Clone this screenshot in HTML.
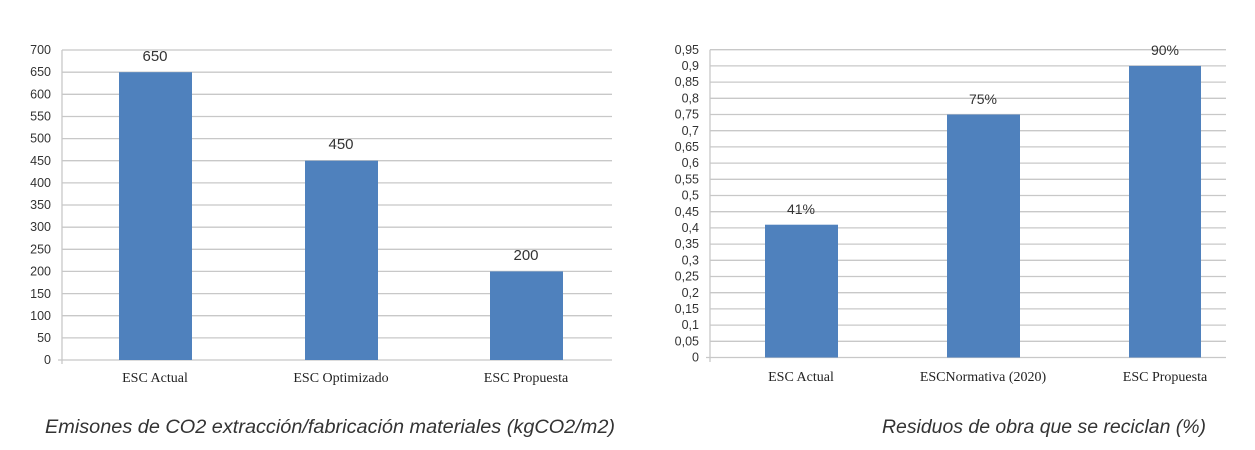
<!DOCTYPE html>
<html><head><meta charset="utf-8"><style>
html,body{margin:0;padding:0;background:#fff;width:1255px;height:450px;overflow:hidden}
</style></head><body>
<svg width="1255" height="450" xmlns="http://www.w3.org/2000/svg">
<g stroke="#c8c8c8" stroke-width="1.3">
<line x1="62" x2="612" y1="337.9" y2="337.9"/><line x1="62" x2="612" y1="315.7" y2="315.7"/><line x1="62" x2="612" y1="293.6" y2="293.6"/><line x1="62" x2="612" y1="271.4" y2="271.4"/><line x1="62" x2="612" y1="249.3" y2="249.3"/><line x1="62" x2="612" y1="227.2" y2="227.2"/><line x1="62" x2="612" y1="205" y2="205"/><line x1="62" x2="612" y1="182.9" y2="182.9"/><line x1="62" x2="612" y1="160.7" y2="160.7"/><line x1="62" x2="612" y1="138.6" y2="138.6"/><line x1="62" x2="612" y1="116.5" y2="116.5"/><line x1="62" x2="612" y1="94.3" y2="94.3"/><line x1="62" x2="612" y1="72.2" y2="72.2"/><line x1="62" x2="612" y1="50" y2="50"/>
<line x1="62" x2="62" y1="50" y2="364"/><line x1="58" x2="612" y1="360" y2="360"/>
</g>
<g fill="#4f81bd">
<rect x="119" y="72.2" width="73" height="287.8"/>
<rect x="305" y="160.7" width="73" height="199.3"/>
<rect x="490" y="271.4" width="73" height="88.6"/>
</g>
<g font-family="Liberation Sans, sans-serif" font-size="12.5" fill="#333" text-anchor="end">
<text x="51" y="364">0</text><text x="51" y="342">50</text><text x="51" y="320">100</text><text x="51" y="298">150</text><text x="51" y="275.5">200</text><text x="51" y="253.5">250</text><text x="51" y="231">300</text><text x="51" y="209">350</text><text x="51" y="187">400</text><text x="51" y="165">450</text><text x="51" y="142.5">500</text><text x="51" y="120.5">550</text><text x="51" y="98.5">600</text><text x="51" y="76">650</text><text x="51" y="54">700</text>
</g>
<g font-family="Liberation Sans, sans-serif" font-size="15" fill="#333" text-anchor="middle">
<text x="155" y="61">650</text><text x="341" y="149">450</text><text x="526" y="260">200</text>
</g>
<g font-family="Liberation Serif, serif" font-size="14" fill="#222" text-anchor="middle">
<text x="155" y="382">ESC Actual</text><text x="341" y="382">ESC Optimizado</text><text x="526" y="382">ESC Propuesta</text>
</g>

<g stroke="#c8c8c8" stroke-width="1.3">
<line x1="710" x2="1226" y1="341.3" y2="341.3"/><line x1="710" x2="1226" y1="325.1" y2="325.1"/><line x1="710" x2="1226" y1="308.9" y2="308.9"/><line x1="710" x2="1226" y1="292.7" y2="292.7"/><line x1="710" x2="1226" y1="276.5" y2="276.5"/><line x1="710" x2="1226" y1="260.3" y2="260.3"/><line x1="710" x2="1226" y1="244.1" y2="244.1"/><line x1="710" x2="1226" y1="227.9" y2="227.9"/><line x1="710" x2="1226" y1="211.7" y2="211.7"/><line x1="710" x2="1226" y1="195.5" y2="195.5"/><line x1="710" x2="1226" y1="179.3" y2="179.3"/><line x1="710" x2="1226" y1="163.1" y2="163.1"/><line x1="710" x2="1226" y1="146.9" y2="146.9"/><line x1="710" x2="1226" y1="130.7" y2="130.7"/><line x1="710" x2="1226" y1="114.5" y2="114.5"/><line x1="710" x2="1226" y1="98.3" y2="98.3"/><line x1="710" x2="1226" y1="82.1" y2="82.1"/><line x1="710" x2="1226" y1="65.9" y2="65.9"/><line x1="710" x2="1226" y1="49.7" y2="49.7"/>
<line x1="710" x2="710" y1="49.7" y2="362"/><line x1="706" x2="1226" y1="357.5" y2="357.5"/>
</g>
<g fill="#4f81bd">
<rect x="765" y="224.7" width="73" height="132.8"/>
<rect x="947" y="114.5" width="73" height="243"/>
<rect x="1129" y="65.9" width="72" height="291.6"/>
</g>
<g font-family="Liberation Sans, sans-serif" font-size="12.5" fill="#333" text-anchor="end">
<text x="699" y="361.5">0</text><text x="699" y="345.5">0,05</text><text x="699" y="329">0,1</text><text x="699" y="313">0,15</text><text x="699" y="297">0,2</text><text x="699" y="280.5">0,25</text><text x="699" y="264.5">0,3</text><text x="699" y="248">0,35</text><text x="699" y="232">0,4</text><text x="699" y="216">0,45</text><text x="699" y="199.5">0,5</text><text x="699" y="183.5">0,55</text><text x="699" y="167">0,6</text><text x="699" y="151">0,65</text><text x="699" y="135">0,7</text><text x="699" y="118.5">0,75</text><text x="699" y="102.5">0,8</text><text x="699" y="86">0,85</text><text x="699" y="70">0,9</text><text x="699" y="54">0,95</text>
</g>
<g font-family="Liberation Sans, sans-serif" font-size="14" fill="#333" text-anchor="middle">
<text x="801" y="214">41%</text><text x="983" y="104">75%</text><text x="1165" y="55">90%</text>
</g>
<g font-family="Liberation Serif, serif" font-size="14" fill="#222" text-anchor="middle">
<text x="801" y="381">ESC Actual</text><text x="983" y="381">ESCNormativa (2020)</text><text x="1165" y="381">ESC Propuesta</text>
</g>

<g font-family="Liberation Sans, sans-serif" font-size="19" font-style="italic" fill="#333">
<text x="45" y="433" textLength="570" lengthAdjust="spacingAndGlyphs">Emisones de CO2 extracción/fabricación materiales (kgCO2/m2)</text>
<text x="882" y="433" textLength="324" lengthAdjust="spacingAndGlyphs">Residuos de obra que se reciclan (%)</text>
</g>
</svg>
</body></html>
